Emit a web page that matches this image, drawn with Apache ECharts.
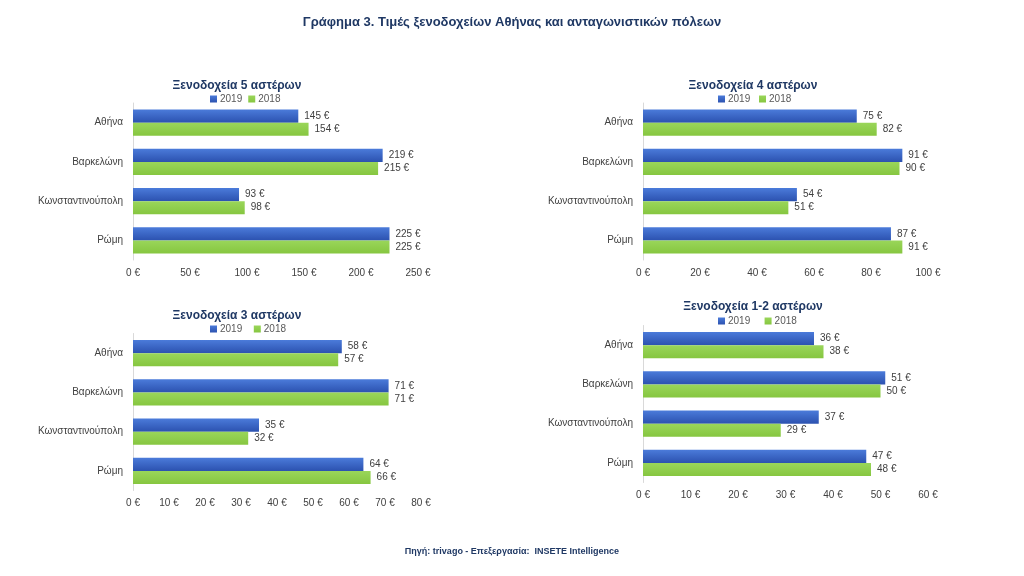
<!DOCTYPE html>
<html>
<head>
<meta charset="utf-8">
<script src="https://cdn.jsdelivr.net/npm/echarts@6/dist/echarts.min.js"></script>
<style>
html,body{margin:0;padding:0;background:#fff;}
#c{width:1024px;height:576px;}
</style>
</head>
<body>
<div id="c"></div>
<script>
const categories = ['Αθήνα', 'Βαρκελώνη', 'Κωνσταντινούπολη', 'Ρώμη'];
const seriesNames = ['2019', '2018'];

const titleMain = 'Γράφημα 3. Τιμές ξενοδοχείων Αθήνας και ανταγωνιστικών πόλεων';
const footer = 'Πηγή: trivago - Επεξεργασία:  INSETE Intelligence';

const panelTitles = ['Ξενοδοχεία 5 αστέρων', 'Ξενοδοχεία 4 αστέρων', 'Ξενοδοχεία 3 αστέρων', 'Ξενοδοχεία 1-2 αστέρων'];

const star5_2019 = [145, 219, 93, 225];
const star5_2018 = [154, 215, 98, 225];
const star4_2019 = [75, 91, 54, 87];
const star4_2018 = [82, 90, 51, 91];
const star3_2019 = [58, 71, 35, 64];
const star3_2018 = [57, 71, 32, 66];
const star12_2019 = [36, 51, 37, 47];
const star12_2018 = [38, 50, 29, 48];

const axisMax = [250, 100, 80, 60];
const axisInterval = [50, 20, 10, 10];

const data2019 = [star5_2019, star4_2019, star3_2019, star12_2019];
const data2018 = [star5_2018, star4_2018, star3_2018, star12_2018];

// layout
const grids = [
  {left: 133, width: 285, top: 103, height: 157},
  {left: 643, width: 285, top: 103, height: 157},
  {left: 133, width: 288, top: 333.5, height: 157},
  {left: 643, width: 285, top: 325.5, height: 157}
];
const titlePos = [
  {x: 232, y: 75, lx: 205, ly: 89},
  {x: 748, y: 75, lx: 713, ly: 89},
  {x: 232, y: 305, lx: 205, ly: 319},
  {x: 748, y: 296, lx: 713, ly: 311}
];

const FONT = 'Liberation Sans';
const blue = new echarts.graphic.LinearGradient(0, 0, 0, 1, [
  {offset: 0, color: '#4B7BDA'}, {offset: 1, color: '#2C52B0'}]);
const green = new echarts.graphic.LinearGradient(0, 0, 0, 1, [
  {offset: 0, color: '#9AD65A'}, {offset: 1, color: '#86C640'}]);

const option = {
  backgroundColor: '#ffffff',
  animation: false,
  textStyle: {fontFamily: FONT},
  title: [
    {text: titleMain, left: 'center', top: 11,
     textStyle: {fontSize: 13, fontWeight: 'bold', color: '#1F3864', fontFamily: FONT}},
    {text: footer, left: 'center', top: 542,
     textStyle: {fontSize: 9, fontWeight: 'bold', color: '#1F3864', fontFamily: FONT}}
  ].concat(panelTitles.map((t, i) => ({
    text: t, left: titlePos[i].x, top: titlePos[i].y, textAlign: 'center',
    textStyle: {fontSize: 12, fontWeight: 'bold', color: '#1F3864', fontFamily: FONT}
  }))),
  legend: titlePos.map((p, i) => ({
    data: seriesNames.map(n => ({name: n + (i ? ' '.repeat(i) : '')})),
    left: p.lx, top: p.ly, itemWidth: 7, itemHeight: 7, itemGap: 6,
    icon: 'rect',
    textStyle: {fontSize: 10, color: '#595959', fontFamily: FONT, padding: [0, 0, 0, -2]}
  })),
  grid: grids.map(g => Object.assign({containLabel: false}, g)),
  xAxis: grids.map((g, i) => ({
    type: 'value', gridIndex: i, min: 0, max: axisMax[i], interval: axisInterval[i],
    axisLine: {show: false}, axisTick: {show: false}, splitLine: {show: false},
    axisLabel: {formatter: '{value} €', fontSize: 10, color: '#404040', margin: 8, fontFamily: FONT}
  })),
  yAxis: grids.map((g, i) => ({
    type: 'category', gridIndex: i, data: categories, inverse: true,
    axisLine: {show: true, lineStyle: {color: '#D9D9D9'}}, axisTick: {show: false},
    axisLabel: {fontSize: 10, color: '#404040', margin: 10, fontFamily: FONT}
  })),
  series: []
};

for (let i = 0; i < 4; i++) {
  const suffix = i ? ' '.repeat(i) : '';
  [[data2019[i], blue], [data2018[i], green]].forEach((d, k) => {
    option.series.push({
      name: seriesNames[k] + suffix,
      type: 'bar', xAxisIndex: i, yAxisIndex: i,
      data: d[0], barGap: '0%', barCategoryGap: '33%',
      itemStyle: {color: d[1]},
      label: {show: true, position: 'right', formatter: '{c} €', fontSize: 10,
              color: '#404040', distance: 6, fontFamily: FONT}
    });
  });
}

const chart = echarts.init(document.getElementById('c'), null, {renderer: 'canvas'});
chart.setOption(option);
</script>
</body>
</html>
